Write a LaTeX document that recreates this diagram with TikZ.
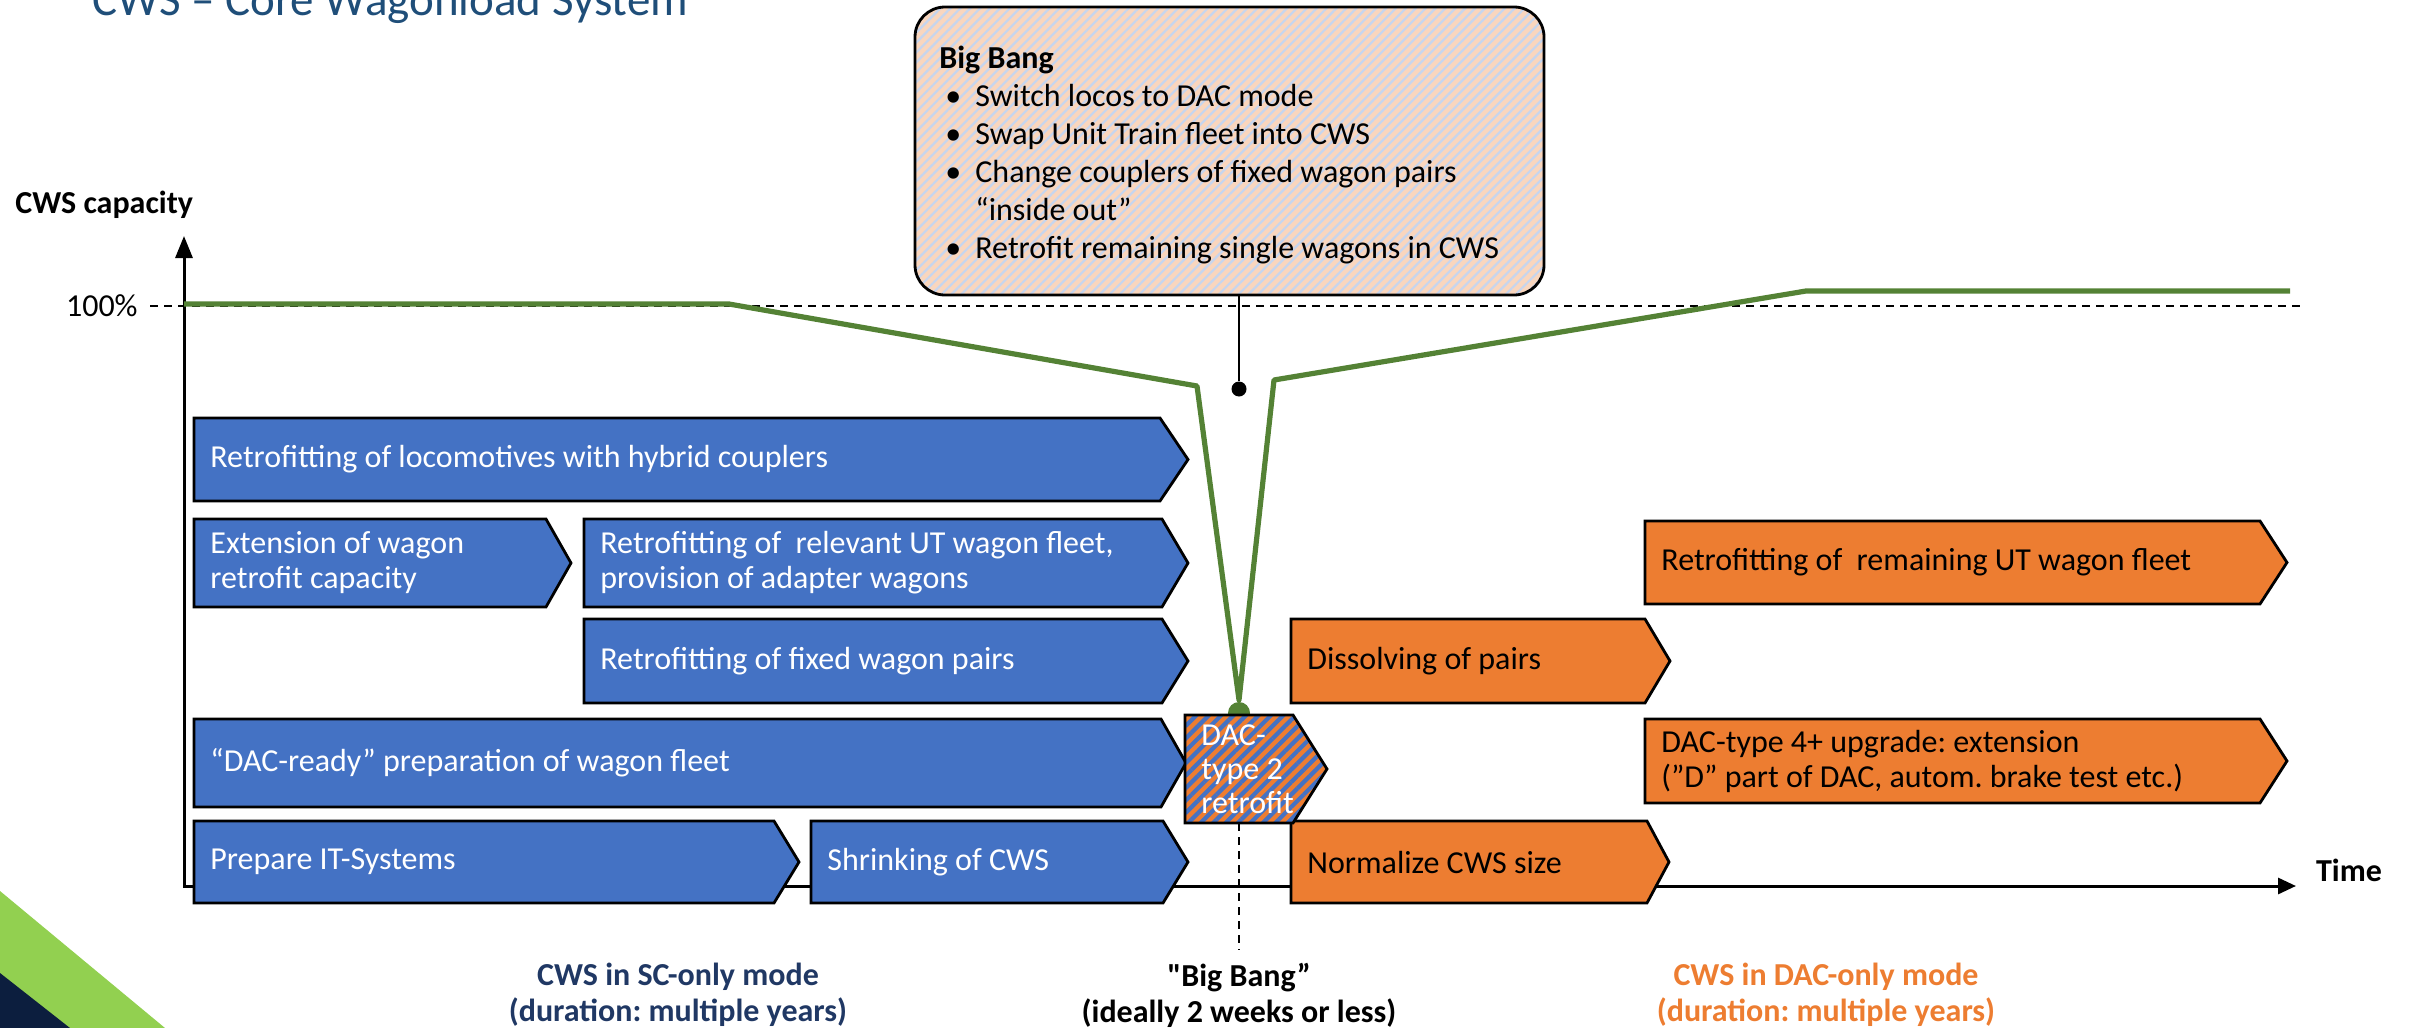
\documentclass[tikz,border=0pt]{standalone}
\usepackage{fontspec}
\setmainfont{Carlito}
\newfontfamily\plainquotes{Carlito}
\usetikzlibrary{arrows.meta,patterns.meta}
\frenchspacing

\definecolor{wlblue}{RGB}{68,114,196}
\definecolor{wlorange}{RGB}{237,125,49}
\definecolor{wlgreen}{RGB}{84,130,53}
\definecolor{wltitle}{RGB}{31,78,121}
\definecolor{wlnavy}{RGB}{32,56,100}
\definecolor{wlpeach}{RGB}{249,214,190}
\definecolor{wlpale}{RGB}{198,213,238}
\definecolor{wllime}{RGB}{146,208,80}
\definecolor{wldark}{RGB}{12,30,62}

\tikzset{
  phaseedge/.style={draw=black,line width=1.4pt,line join=miter},
  bluephase/.style={phaseedge,fill=wlblue},
  orangephase/.style={phaseedge,fill=wlorange},
  boxtext/.style={anchor=west,inner sep=0pt,align=left,font=\fontsize{16}{17.5}\selectfont},
  whitetext/.style={text=white},
  blacktext/.style={text=black},
  axisline/.style={line width=1.5pt,line join=miter},
  guideline/.style={line width=1pt,dash pattern=on 4pt off 3pt},
  capline/.style={wlgreen,line width=2.6pt,line join=round},
  boldtext/.style={inner sep=0pt,font=\bfseries\fontsize{16}{18}\selectfont},
  modelabel/.style={boldtext,align=center},
}

% phase arrow: name, style, left, top, start of point, tip, bottom, text style, text
\newcommand\phasebox[9]{%
  \draw[#2] (#3,#4) -- (#5,#4) -- (#6,{(#4+#7)/2}) -- (#5,#7) -- (#3,#7) -- cycle;
  \node[boxtext,#8] (#1) at ({#3+16},{(#4+#7)/2}) {#9};}

\begin{document}
\begin{tikzpicture}[x=0.5pt,y=-0.5pt]
\useasboundingbox (0,0) rectangle (2410,1028);

% corner ribbon
\fill[wllime] (0,891) -- (165,1028) -- (0,1028) -- cycle;
\fill[wldark] (0,973) -- (70,1028) -- (0,1028) -- cycle;

% title
\node[anchor=base west,inner sep=0pt,text=wltitle,font=\fontsize{23.5}{28}\selectfont] (title) at (92,16) {CWS – Core Wagonload System};

% axes
\coordinate (origin) at (184,886);
\coordinate (ytop) at (184,236);
\coordinate (xend) at (2296,886);
\draw[axisline,{Triangle[length=11pt,width=8.5pt]}-{Triangle[length=9pt,width=8pt]}] (ytop) -- (origin) -- (xend);
\node[boldtext,anchor=west] (ylabel) at (15,205) {CWS capacity};
\node[boldtext,anchor=center] (xlabel) at (2349,870) {Time};
\node[inner sep=0pt,anchor=east,font=\fontsize{16}{18}\selectfont] (fullmark) at (138,306) {100\%};

% 100% reference level
\coordinate (ref0) at (150,306);
\coordinate (ref1) at (2300,306);
\draw[guideline] (ref0) -- (ref1);

% capacity curve
\coordinate (c0) at (184,304);
\coordinate (c1) at (729,304);
\coordinate (c2) at (1197,386);
\coordinate (c3) at (1239,700);
\coordinate (c4) at (1274,380);
\coordinate (c5) at (1806,291);
\coordinate (c6) at (2290,291);
\draw[capline] (c0) -- (c1) -- (c2) -- (c3) -- (c4) -- (c5) -- (c6);
\node[circle,fill=wlgreen,minimum size=11pt,inner sep=0pt] (lowpoint) at (1239,713) {};

% SC-only phases
\phasebox{locos}{bluephase}{194}{418}{1160}{1188}{501}{whitetext}{Retrofitting of locomotives with hybrid couplers}
\phasebox{extension}{bluephase}{194}{519}{546}{571}{607}{whitetext}{Extension of wagon\\retrofit capacity}
\phasebox{utfleet}{bluephase}{584}{519}{1162}{1188}{607}{whitetext}{Retrofitting of~ relevant UT wagon fleet,\\provision of adapter wagons}
\phasebox{pairs}{bluephase}{584}{619}{1162}{1188}{703}{whitetext}{Retrofitting of fixed wagon pairs}
\phasebox{dacready}{bluephase}{194}{719}{1161}{1186}{807}{whitetext}{“DAC-ready” preparation of wagon fleet}
\phasebox{itsys}{bluephase}{194}{821}{774}{799}{903}{whitetext}{Prepare IT-Systems}
\phasebox{shrink}{bluephase}{811}{821}{1163}{1188}{903}{whitetext}{Shrinking of CWS}

% DAC-only phases
\phasebox{remaining}{orangephase}{1645}{521}{2260}{2287}{604}{blacktext}{Retrofitting of~ remaining UT wagon fleet}
\phasebox{dissolve}{orangephase}{1291}{619}{1645}{1670}{703}{blacktext}{Dissolving of pairs}
\phasebox{upgrade}{orangephase}{1645}{719}{2260}{2287}{803}{blacktext}{DAC-type 4+ upgrade: extension\\(”D” part of DAC, autom. brake test etc.)}
\phasebox{normalize}{orangephase}{1291}{821}{1647}{1669}{903}{blacktext}{Normalize CWS size}

% transition step, striped
\draw[phaseedge,preaction={fill=wlorange},pattern={Lines[angle=45,distance=4.4pt,line width=2.1pt]},pattern color=wlblue]
  (1185,715) -- (1293,715) -- (1327,769) -- (1293,823) -- (1185,823) -- cycle;
\node[boxtext,text=white,font=\fontsize{16}{17}\selectfont] (dactwo) at (1201,769) {DAC-\\type 2\\retrofit};

% switch-over marker
\coordinate (markstart) at (1239,823);
\coordinate (markend) at (1239,950);
\draw[guideline] (markstart) -- (markend);

% Big Bang callout
\node[draw=black,line width=1.4pt,rounded corners=15pt,minimum width=314.5pt,minimum height=144pt,
      preaction={fill=wlpeach},pattern={Lines[angle=45,distance=3.5pt,line width=1.1pt]},pattern color=wlpale]
      (bigbang) at (1229.5,151) {};
\node[anchor=north west,inner sep=0pt,align=left,font=\fontsize{16}{19}\selectfont] (bangtext) at (939,46)
  {\textbf{Big Bang}\\
   \hspace*{3pt}\makebox[15pt][l]{•}Switch locos to DAC mode\\
   \hspace*{3pt}\makebox[15pt][l]{•}Swap Unit Train fleet into CWS\\
   \hspace*{3pt}\makebox[15pt][l]{•}Change couplers of fixed wagon pairs\\
   \hspace*{18pt}“inside out”\\
   \hspace*{3pt}\makebox[15pt][l]{•}Retrofit remaining single wagons in CWS};
\node[circle,fill=black,minimum size=7.5pt,inner sep=0pt] (bangdot) at (1239,389) {};
\draw[line width=1.1pt] (bigbang.south -| bangdot) -- (bangdot);

% period labels
\node[modelabel,text=wlnavy] (sconly) at (678,995) {CWS in SC-only mode\\(duration: multiple years)};
\node[modelabel] (bangtime) at (1239,995) {{\plainquotes\bfseries "}Big Bang”\\(ideally 2 weeks or less)};
\node[modelabel,text=wlorange] (daconly) at (1826,995) {CWS in DAC-only mode\\(duration: multiple years)};
\end{tikzpicture}
\end{document}
